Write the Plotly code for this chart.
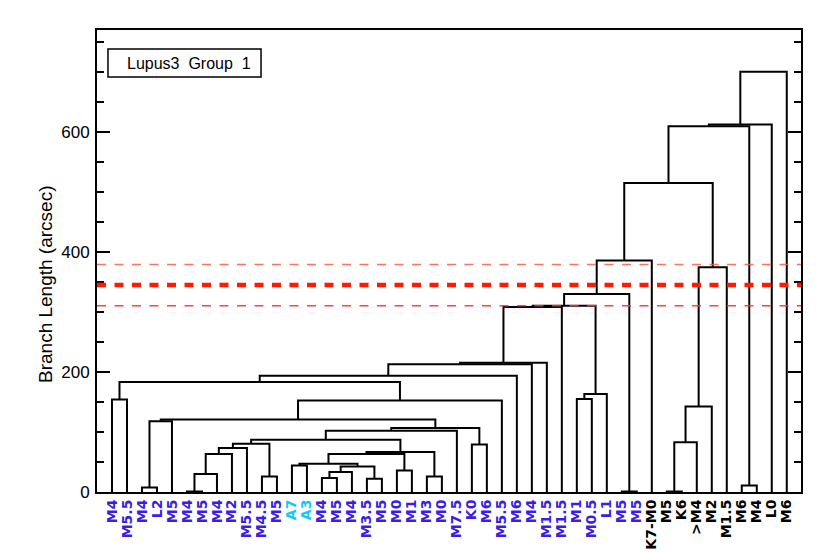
import plotly.graph_objects as go

# ---- data ----
labels = ["M4", "M5.5", "M4", "L2", "M5", "M4", "M5", "M4", "M2", "M5.5",
          "M4.5", "M5", "A7", "A3", "M4", "M5", "M4", "M3.5", "M5", "M0",
          "M1", "M3", "M0", "M7.5", "K0", "M6", "M5.5", "M6", "M4", "M1.5",
          "M1.5", "M1", "M0.5", "L1", "M5", "M5", "K7-M0", "M5", "K6", ">M4",
          "M2", "M1.5", "M6", "M4", "L0", "M6"]
label_group = (["blue"] * 12 + ["cyan"] * 2 + ["blue"] * 22 + ["black"] * 10)

# linkage: (node a, node b, merge height); leaves are 0..45, merge k -> node 46+k
merges = [
    (2, 3, 7.7),        # 46
    (46, 4, 118),       # 47
    (0, 1, 154),        # 48
    (5, 6, 1),          # 49
    (49, 7, 30),        # 50
    (50, 8, 63.3),      # 51
    (51, 9, 73.3),      # 52
    (10, 11, 26),       # 53
    (52, 53, 80.5),     # 54
    (12, 13, 44.3),     # 55
    (14, 15, 23.3),     # 56
    (56, 16, 33.3),     # 57
    (17, 18, 22.2),     # 58
    (57, 58, 42.7),     # 59
    (55, 59, 47),       # 60
    (19, 20, 36),       # 61
    (60, 61, 63.3),     # 62
    (21, 22, 26),       # 63
    (62, 63, 66.7),     # 64
    (54, 64, 87.2),     # 65
    (65, 23, 102),      # 66
    (24, 25, 79),       # 67
    (66, 67, 106.6),    # 68
    (47, 68, 121),      # 69
    (69, 26, 152.3),    # 70
    (48, 70, 183.5),    # 71
    (71, 27, 193.8),    # 72
    (72, 28, 213),      # 73
    (73, 29, 215.5),    # 74
    (74, 30, 308.3),    # 75
    (31, 32, 155),      # 76
    (76, 33, 163.3),    # 77
    (75, 77, 310.5),    # 78
    (34, 35, 1),        # 79
    (78, 79, 330),      # 80
    (80, 36, 386),      # 81
    (37, 38, 1),        # 82
    (82, 39, 83),       # 83
    (83, 40, 142.7),    # 84
    (84, 41, 374.4),    # 85
    (81, 85, 515),      # 86
    (42, 43, 11),       # 87
    (86, 87, 609.5),    # 88
    (88, 44, 612.3),    # 89
    (89, 45, 700.5),    # 90
]

cut_level = 345
cut_low = 310.5
cut_high = 379
legend_text = "Lupus3  Group  1"
y_title = "Branch Length (arcsec)"
y_ticks = [0, 200, 400, 600]

# ---- build dendrogram paths ----
n = len(labels)
node_x = {i: float(i) for i in range(n)}
node_h = {i: 0.0 for i in range(n)}
xs, ys = [], []
for k, (a, b, h) in enumerate(merges):
    xa, xb = node_x[a], node_x[b]
    xs += [xa, xa, xb, xb, None]
    ys += [node_h[a], h, h, node_h[b], None]
    node_x[n + k] = (xa + xb) / 2
    node_h[n + k] = h

colors = {"blue": "#3a1ee8", "cyan": "#14c8ff", "black": "#000000"}
ticktext = ['<span style="color:%s">%s</span>' % (colors[g], t)
            for t, g in zip(labels, label_group)]

fig = go.Figure()
fig.add_trace(go.Scatter(x=xs, y=ys, mode="lines",
                         line=dict(color="black", width=2),
                         hoverinfo="skip", showlegend=False))

# cut lines
fig.add_shape(type="line", xref="paper", x0=0, x1=1, yref="y",
              y0=cut_high, y1=cut_high,
              line=dict(color="rgba(255,90,70,0.85)", width=1.5, dash="9px,8.5px"))
fig.add_shape(type="line", xref="paper", x0=0, x1=1, yref="y",
              y0=cut_low, y1=cut_low,
              line=dict(color="rgba(255,50,30,0.9)", width=1.5, dash="9px,8.5px"))
fig.add_shape(type="line", xref="paper", x0=0, x1=1, yref="y",
              y0=cut_level, y1=cut_level,
              line=dict(color="#ff1a00", width=4.5, dash="9px,8.5px"))

# legend box
fig.add_shape(type="rect", xref="paper", yref="paper",
              x0=0.0156, x1=0.233, y0=0.898, y1=0.959,
              line=dict(color="black", width=1.5), fillcolor="white")
fig.add_annotation(xref="paper", yref="paper", x=0.04, y=0.9285,
                   xanchor="left", yanchor="middle", showarrow=False,
                   text=legend_text,
                   font=dict(family="Liberation Sans", size=16, color="black"))

# y title
fig.add_annotation(xref="paper", yref="paper", x=-0.074, y=0.45,
                   xanchor="center", yanchor="middle", showarrow=False,
                   textangle=-90, text=y_title,
                   font=dict(family="Liberation Sans", size=19, color="black"))

# page body has an 8px default margin, so size/margins compensate for it
fig.update_layout(
    width=822, height=546,
    margin=dict(l=89, r=29, t=22, b=62),
    plot_bgcolor="white", paper_bgcolor="white",
    showlegend=False,
)
fig.update_xaxes(
    range=[-1, 45.95], tickmode="array", tickvals=list(range(n)),
    ticktext=ticktext, tickangle=-90, ticks="",
    tickfont=dict(family="DejaVu Sans", size=14, weight="bold"),
    showgrid=False, zeroline=False, showline=True, linecolor="black",
    linewidth=2, mirror=True, automargin=False,
)
fig.update_yaxes(
    range=[0, 770], tickmode="array", tickvals=y_ticks,
    ticks="inside", ticklen=13, tickwidth=2, tickcolor="black",
    minor=dict(ticks="inside", ticklen=7, tickwidth=2, tickcolor="black",
               dtick=50, tick0=0, showgrid=False),
    tickfont=dict(family="Liberation Sans", size=17, color="black"),
    showgrid=False, zeroline=False, showline=True, linecolor="black",
    linewidth=2, mirror="ticks", automargin=False, ticklabelstandoff=2,
)

fig.write_html("out.html")
